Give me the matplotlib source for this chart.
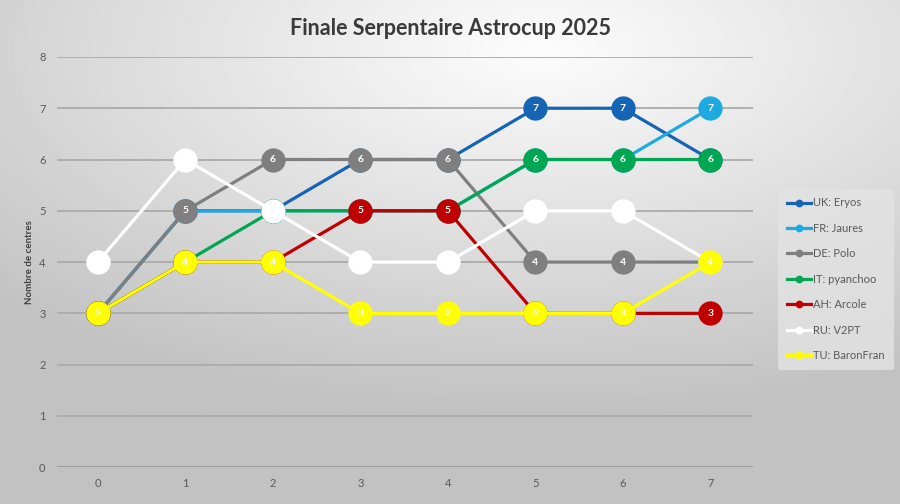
import numpy as np
import matplotlib
matplotlib.use("Agg")
import matplotlib.pyplot as plt

plt.rcParams['font.family'] = ['Lato', 'DejaVu Sans']

# data
rounds = [0, 1, 2, 3, 4, 5, 6, 7]
names = ['UK: Eryos', 'FR: Jaures', 'DE: Polo', 'IT: pyanchoo',
         'AH: Arcole', 'RU: V2PT', 'TU: BaronFran']
uk = [3, 5, 5, 6, 6, 7, 7, 6]
fr = [3, 5, 5, 5, 5, 6, 6, 7]
de = [3, 5, 6, 6, 6, 4, 4, 4]
it = [3, 4, 5, 5, 5, 6, 6, 6]
ah = [3, 4, 4, 5, 5, 3, 3, 3]
ru = [4, 6, 5, 4, 4, 5, 5, 4]
tu = [3, 4, 4, 3, 3, 3, 3, 4]
series = [uk, fr, de, it, ah, ru, tu]
colors = ['#1565B4', '#1FA9E1', '#7F7F7F', '#00A651', '#C00000', '#FFFFFF', '#FFFF00']

fig = plt.figure(figsize=(9, 5.04), dpi=100)

# radial grey background like the Excel chart area
bg = fig.add_axes([0, 0, 1, 1], zorder=-10)
yy, xx = np.mgrid[0:1:300j, 0:1:500j]
r = np.sqrt(((xx - 0.6) / 1.0) ** 2 + ((yy - 0.1) / 0.85) ** 2)
shade = np.clip(0.99 - 0.27 * r, 0.76, 1.0)
bg.imshow(shade, cmap='gray', vmin=0, vmax=1, aspect='auto', extent=[0, 1, 1, 0])
bg.set_xlim(0, 1)
bg.set_ylim(1, 0)
bg.axis('off')

ax = fig.add_axes([0.063, 0.073, 0.774, 0.814])
ax.patch.set_alpha(0)

for i, (vals, name, col) in enumerate(zip(series, names, colors)):
    z = 3 + i * 0.1
    ax.plot(rounds, vals, color=col, lw=2.3, marker='o', markersize=17.5,
            markeredgewidth=0, label=name, zorder=z)
    for x, v in zip(rounds, vals):
        ax.text(x, v, str(v), color='white', fontsize=7.5, fontweight='bold',
                ha='center', va='center', zorder=z + 0.05)

ax.set_xlim(-0.47, 7.49)
ax.set_ylim(0, 8)
ax.set_xticks(rounds)
ax.set_yticks(range(0, 9))
ax.tick_params(length=0, labelsize=8, labelcolor='#595959', pad=8)
ax.grid(axis='y', color='#ababab', lw=1.3, zorder=0)
ax.axhline(0, color='#1a1a1a', lw=2, zorder=1)
for s in ax.spines.values():
    s.set_visible(False)

ax.set_ylabel('Nombre de centres', fontsize=7, fontweight='bold',
              color='#404040', labelpad=4)
fig.text(0.5, 0.943, 'Finale Serpentaire Astrocup 2025', ha='center', va='center',
         fontsize=15.5, fontweight='bold', color='#3a3a3a')

handles, labels = ax.get_legend_handles_labels()
leg = fig.legend(handles, labels, loc='upper left', bbox_to_anchor=(0.858, 0.637),
                 fontsize=8, frameon=True, handlelength=2.2, handletextpad=0.2,
                 labelspacing=1.3, markerscale=0.32, borderpad=0.8)
leg.get_frame().set_facecolor('#e3e3e3')
leg.get_frame().set_edgecolor('none')
leg.get_frame().set_alpha(0.8)
for t in leg.get_texts():
    t.set_color('#595959')

fig.savefig('out.png', dpi=100)
